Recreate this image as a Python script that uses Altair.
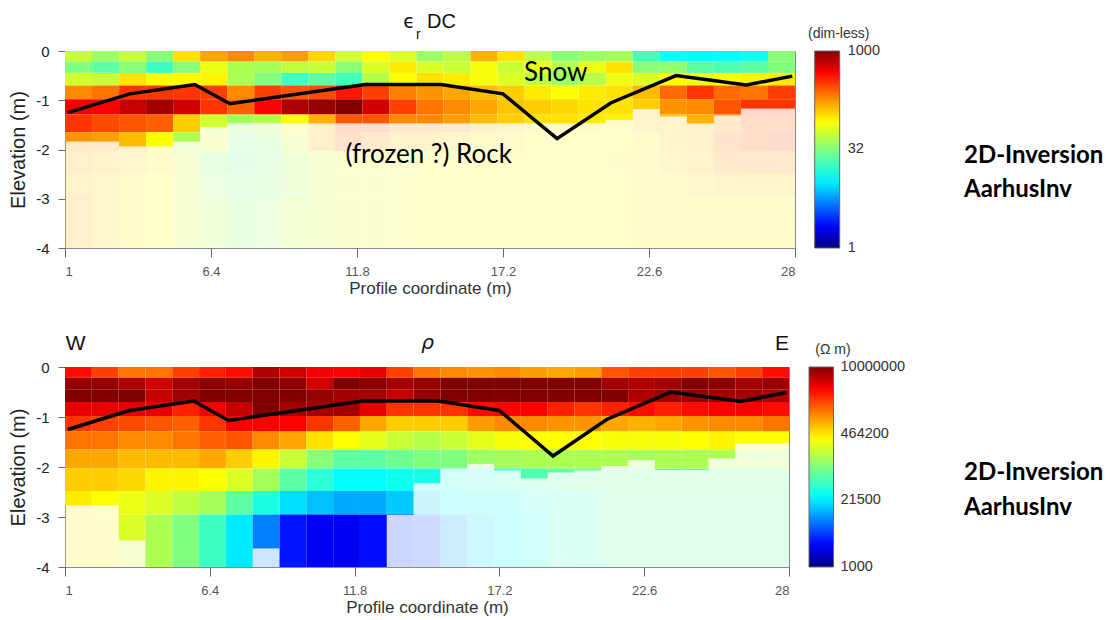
import altair as alt
import pandas as pd

# ---------------- data ----------------
X_START = 1.0          # first electrode position (m); cells are 1 m wide
LAYER_BOUNDS = [0, 0.215, 0.445, 0.70, 0.98, 1.29, 1.65, 2.03, 2.48, 2.95, 4.0]  # depth (m)

# log10 of relative permittivity (eps_r DC), rows = layers, cols = cells
eps_log10 = [
    [1.74,1.59,1.74,1.53,2.01,2.19,2.28,2.16,2.22,2.04,1.77,1.92,1.80,1.59,1.71,2.16,2.01,1.71,1.53,1.59,1.62,1.29,1.08,1.05,1.05,1.11,1.53],
    [1.50,1.38,1.53,1.26,1.53,1.86,1.65,1.62,1.71,1.74,1.53,1.80,1.98,1.80,1.74,1.89,1.74,1.86,1.68,1.86,2.01,1.53,1.56,1.38,1.32,1.38,1.50],
    [1.77,1.74,2.01,1.92,1.92,1.95,1.65,1.50,1.26,1.38,1.29,1.68,1.92,2.01,1.98,1.89,1.80,1.71,1.59,1.68,1.86,1.80,1.92,1.86,1.92,1.95,1.98],
    [2.28,2.34,2.52,2.52,2.52,2.49,2.28,2.49,2.43,2.46,2.61,2.49,2.31,2.25,2.19,2.13,2.07,1.98,1.92,1.98,2.01,2.13,2.37,2.52,2.37,2.34,2.49],
    [2.70,2.67,2.82,2.91,2.79,2.52,2.40,2.67,2.88,2.94,3.00,2.79,2.49,2.34,2.28,2.19,2.10,2.07,2.04,2.01,2.01,2.07,2.25,2.28,2.43,2.52,2.52],
    [2.52,2.46,2.43,2.40,2.07,1.77,1.62,1.68,1.89,2.16,2.43,2.43,2.28,2.28,2.22,2.13,2.07,2.01,2.01,1.98,1.95,2.10,2.10,2.16,2.25,2.40,2.40],
    [2.25,2.22,2.13,1.92,1.65,1.86,1.50,1.56,1.80,2.16,2.34,2.25,2.10,2.10,2.04,1.98,1.98,1.92,1.92,1.92,1.92,1.98,2.10,2.16,2.34,2.40,2.46],
    [2.16,2.10,2.04,1.98,1.80,1.56,1.44,1.50,1.65,1.80,1.86,1.86,1.86,1.92,1.92,1.92,1.92,1.92,1.92,1.92,1.95,1.98,2.04,2.10,2.22,2.28,2.28],
    [2.10,2.04,1.98,1.92,1.80,1.62,1.50,1.56,1.68,1.80,1.86,1.86,1.89,1.92,1.92,1.92,1.92,1.92,1.92,1.92,1.92,1.98,1.98,2.04,2.10,2.10,2.10],
    [2.16,2.04,1.98,1.92,1.80,1.65,1.56,1.62,1.74,1.80,1.86,1.86,1.89,1.92,1.92,1.92,1.92,1.92,1.92,1.92,1.92,1.98,1.98,1.98,1.98,1.98,1.98],
]
# depth of investigation per cell column (m) - below it the model is faded
eps_doi = [1.84,1.84,1.94,1.94,1.84,1.55,1.47,1.47,1.47,1.47,1.47,1.47,1.47,1.47,1.47,1.47,1.47,1.47,1.47,1.47,1.40,1.18,1.33,1.47,1.31,1.17,1.17]

# log10 of resistivity (Ohm m)
rho_log10 = [
    [6.52,6.32,6.12,6.12,6.32,6.44,6.52,6.84,6.72,6.60,6.56,6.64,6.32,6.12,6.04,6.00,6.04,5.96,5.92,5.96,6.24,6.32,6.32,6.32,6.24,6.32,6.52],
    [6.92,6.92,6.84,6.72,6.88,6.96,6.92,7.00,6.96,6.72,7.00,6.96,6.88,6.92,7.00,7.00,7.00,7.00,7.00,7.00,6.88,6.84,6.88,7.00,6.96,6.88,6.92],
    [7.00,7.00,7.00,6.76,6.88,7.00,7.00,7.00,7.00,6.92,6.88,6.88,6.76,6.92,7.00,7.00,7.00,7.00,7.00,7.00,7.00,6.84,6.88,6.92,6.88,6.88,6.84],
    [6.64,6.64,6.64,6.64,6.44,6.60,6.76,7.00,6.88,6.88,6.88,6.64,6.36,6.36,6.36,6.52,6.56,6.56,6.44,6.36,6.44,6.52,6.44,6.52,6.56,6.56,6.52],
    [6.36,6.32,6.28,6.24,6.20,6.36,6.56,6.56,6.56,6.36,6.20,5.92,5.76,5.76,5.76,5.96,6.04,6.04,6.00,6.00,5.92,5.88,5.92,6.00,6.04,6.04,6.12],
    [6.12,6.12,6.04,6.04,6.12,6.20,6.24,6.04,5.92,5.68,5.56,5.44,5.32,5.24,5.32,5.44,5.52,5.56,5.56,5.56,5.52,5.52,5.52,5.56,5.60,5.56,5.56],
    [5.92,5.92,5.84,5.84,5.84,5.92,5.76,5.60,5.32,5.04,4.84,4.84,4.92,5.00,5.00,5.12,5.16,5.20,5.20,5.20,5.20,5.16,5.20,5.20,5.20,5.20,5.20],
    [5.76,5.76,5.72,5.60,5.60,5.56,5.40,5.16,4.84,4.60,4.40,4.40,4.48,4.52,4.52,4.60,4.68,4.76,4.84,4.88,4.92,4.92,4.92,4.92,4.92,4.92,4.92],
    [5.64,5.56,5.48,5.40,5.28,5.16,4.84,4.52,4.28,4.16,4.08,4.08,4.20,4.20,4.36,4.44,4.44,4.60,4.68,4.76,4.88,4.88,4.88,4.88,4.88,4.88,4.88],
    [5.64,5.60,5.40,5.20,5.00,4.68,4.32,3.92,3.52,3.40,3.40,3.48,3.64,3.72,4.04,4.28,4.36,4.52,4.68,4.76,4.84,4.84,4.84,4.84,4.84,4.84,4.84],
]
rho_doi = [2.77,2.77,3.47,4.0,4.0,4.0,4.0,3.63,4.0,4.0,4.0,4.0,2.96,2.33,2.03,1.94,2.07,2.23,2.11,2.07,1.98,1.86,2.06,2.06,1.83,1.52,1.52]

# interpreted snow / rock boundary
boundary_x = [1.1, 3.4, 5.8, 7.1, 12.1, 14.9, 17.2, 19.2, 21.2, 23.6, 26.2, 27.9]
boundary_depth = [1.25, 0.87, 0.68, 1.07, 0.68, 0.68, 0.87, 1.78, 1.05, 0.50, 0.69, 0.51]

x_ticks = [1, 6.4, 11.8, 17.2, 22.6, 28]
y_ticks = [0, -1, -2, -3, -4]
eps_legend_ticks = [1, 32, 1000]
eps_legend_labels = ["1", "32", "1000"]
rho_legend_ticks = [1000, 21500, 464200, 10000000]
rho_legend_labels = ["1000", "21500", "464200", "10000000"]

# jet colour map stops (fraction of colour bar) and colours
jet_pos = [0, 0.11, 0.23, 0.35, 0.50, 0.64, 0.77, 0.89, 1.0]
jet_col = ["#00007f", "#0000ff", "#0080ff", "#00ffff", "#80ff80", "#ffff00", "#ff8000", "#ff0000", "#800000"]

# ---------------- helpers ----------------
SANS = "Liberation Sans, Arial, sans-serif"
CAL = "Lato, Open Sans, sans-serif"
Y_SCALE = alt.Scale(domain=[-4, 0], nice=False, zero=False)


def build_cells(grid, doi):
    recs = []
    for r, row in enumerate(grid):
        top, bot = LAYER_BOUNDS[r], LAYER_BOUNDS[r + 1]
        for c, lv in enumerate(row):
            x0 = X_START + c
            d = doi[c]
            val = 10 ** lv
            if top < d:
                recs.append(dict(x0=x0, x1=x0 + 1, e0=-top, e1=-min(bot, d), val=val, shade="full"))
            if bot > d:
                recs.append(dict(x0=x0, x1=x0 + 1, e0=-max(top, d), e1=-bot, val=val, shade="faded"))
    return pd.DataFrame(recs)


boundary_df = pd.DataFrame({"x0": boundary_x, "e0": [-d for d in boundary_depth]})


def panel(grid, doi, lo, hi, ticks, labels, W, H, leg_x, thick, lab_off):
    cells = build_cells(grid, doi)
    dom = [10 ** (lo + (hi - lo) * p) for p in jet_pos]
    xenc = alt.X("x0:Q", scale=alt.Scale(domain=[1, 28], nice=False, zero=False),
                 axis=alt.Axis(values=x_ticks, labelExpr="'' + datum.value", title="Profile coordinate (m)",
                               labelFont=SANS, labelFontSize=13, labelColor="#555",
                               tickSize=9, tickColor="#666", labelPadding=8,
                               titleFont=SANS, titleFontSize=17, titleFontWeight="normal",
                               titleColor="#333", titlePadding=2, domain=False, grid=False))
    yenc = alt.Y("e0:Q", scale=Y_SCALE,
                 axis=alt.Axis(values=y_ticks, labelExpr="'' + datum.value", title="Elevation (m)",
                               labelFont=SANS, labelFontSize=15, labelColor="#222",
                               tickSize=7, tickColor="#666", labelPadding=9,
                               titleFont=SANS, titleFontSize=20, titleFontWeight="normal",
                               titleColor="#222", titlePadding=7.5, domain=False, grid=False))
    rect = alt.Chart(cells).mark_rect().encode(
        x=xenc, x2="x1:Q", y=yenc, y2="e1:Q",
        color=alt.Color("val:Q",
                        scale=alt.Scale(type="log", domain=dom, range=jet_col, interpolate="rgb"),
                        legend=alt.Legend(title=None, orient="none", legendX=leg_x, legendY=0,
                                          direction="vertical", gradientLength=H,
                                          gradientThickness=thick, values=ticks,
                                          labelExpr="''",
                                          gradientStrokeColor="#666", gradientStrokeWidth=1)),
        opacity=alt.Opacity("shade:N", scale=alt.Scale(domain=["full", "faded"], range=[1, 0.2]),
                            legend=None),
    )
    line = alt.Chart(boundary_df).mark_line(color="black", strokeWidth=3.5).encode(
        x="x0:Q", y=alt.Y("e0:Q", scale=Y_SCALE))
    # colour-bar labels, placed on the same log position as the colour bar
    lab_df = pd.DataFrame({"v": ticks, "label": labels})
    leg_labels = alt.Chart(lab_df).transform_calculate(
        e0=f"-4 + 4 * (log(datum.v) / LN10 - {lo}) / ({hi} - {lo})"
    ).mark_text(align="left", baseline="middle", font=SANS, fontSize=14.5, color="#333").encode(
        x=alt.value(leg_x + thick + lab_off), y=alt.Y("e0:Q", scale=Y_SCALE), text="label:N")
    return rect, line, leg_labels


one = alt.Data(values=[{"a": 1}])


def txt(text, x, y, size, font=SANS, align="center", weight="normal", style="normal", color="#111"):
    return alt.Chart(one).mark_text(text=text, align=align, baseline="alphabetic", fontSize=size,
                                    font=font, fontWeight=weight, fontStyle=style, color=color
                                    ).encode(x=alt.value(x), y=alt.value(y))


# ---------------- top panel (eps_r) ----------------
TW, TH = 730, 197
rect1, line1, leg1 = panel(eps_log10, eps_doi, 0, 3, eps_legend_ticks, eps_legend_labels,
                           TW, TH, TW + 19.7, 25, 8)
ann1 = pd.DataFrame({"x0": [19.15, 14.45], "e0": [-0.44, -2.11], "label": ["Snow", "(frozen ?) Rock"]})
ann1_layer = alt.Chart(ann1).mark_text(font=CAL, fontSize=26, color="#000", baseline="middle").encode(
    x="x0:Q", y=alt.Y("e0:Q", scale=Y_SCALE), text="label:N")
top = alt.layer(
    rect1, line1, ann1_layer, leg1,
    txt("\u03f5", 350, -23, 19, font="DejaVu Sans", align="right"),
    txt("r", 351, -12, 14, font=SANS, align="left"),
    txt("DC", 362, -23, 20, font=SANS, align="left"),
    txt("(dim-less)", 773.7, -13, 14, font=SANS, color="#333"),
    txt("2D-Inversion", 899, 112, 24, font=CAL, align="left", weight="bold", color="#000"),
    txt("AarhusInv", 899, 146, 24, font=CAL, align="left", weight="bold", color="#000"),
).properties(width=TW, height=TH)

# ---------------- bottom panel (rho) ----------------
BW, BH = 724, 200
rect2, line2, leg2 = panel(rho_log10, rho_doi, 3, 7, rho_legend_ticks, rho_legend_labels,
                           BW, BH, BW + 20, 24.5, 7)
bottom = alt.layer(
    rect2, line2, leg2,
    txt("W", 0.7, -17, 21, font=SANS, align="left"),
    txt("E", BW, -17, 21, font=SANS, align="right"),
    txt("\u03c1", 362.7, -18, 20, font="DejaVu Sans", style="italic"),
    txt("(\u03a9 m)", 768, -13, 14, font=SANS, color="#333"),
    txt("2D-Inversion", 899, 113, 24, font=CAL, align="left", weight="bold", color="#000"),
    txt("AarhusInv", 899, 148, 24, font=CAL, align="left", weight="bold", color="#000"),
).properties(width=BW, height=BH)

chart = alt.vconcat(top, bottom, spacing=35).resolve_scale(
    x="independent", y="independent", color="independent", opacity="independent"
).properties(
    padding={"left": 7, "top": 11, "right": 0, "bottom": 0}, background="white"
).configure_view(stroke="#8a8a8a", strokeWidth=1)

chart.save("out.html", embed_options={"renderer": "svg", "actions": False})
